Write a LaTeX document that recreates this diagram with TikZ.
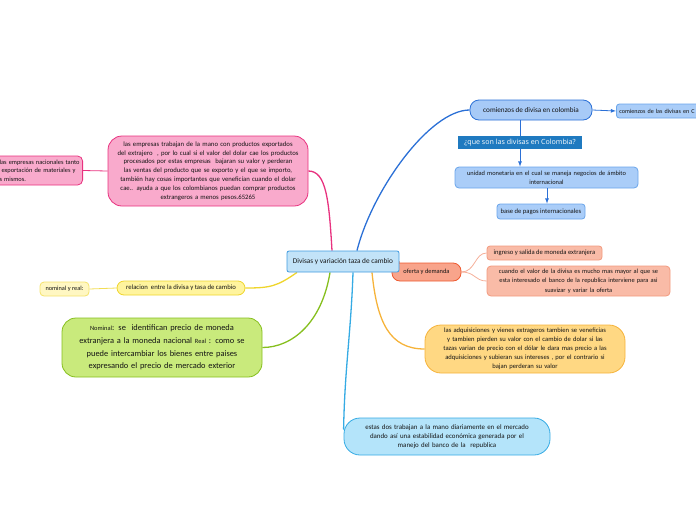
\documentclass[tikz,border=0pt]{standalone}
\usepackage{fontspec}
\setmainfont{Carlito}
\newfontfamily\questfont{Open Sans}
\usepackage{tikz}
\usetikzlibrary{arrows,shapes}
\usetikzlibrary{positioning}
\usetikzlibrary{calc}
\usetikzlibrary{backgrounds}

\definecolor{hubfill}{HTML}{C2E3F8}
\definecolor{hubline}{HTML}{3F9BE0}
\definecolor{pinkfill}{HTML}{F9AACC}
\definecolor{pinkline}{HTML}{E8327F}
\definecolor{yelfill}{HTML}{FFF49E}
\definecolor{yelline}{HTML}{EFD52B}
\definecolor{nomfill}{HTML}{FFF7C2}
\definecolor{grnfill}{HTML}{C9EA7C}
\definecolor{grnline}{HTML}{86BF1E}
\definecolor{bluefill}{HTML}{A7CAF7}
\definecolor{blueline}{HTML}{2B70D6}
\definecolor{unifill}{HTML}{AACDF8}
\definecolor{uniline}{HTML}{6AA5EA}
\definecolor{questfill}{HTML}{1F7AC0}
\definecolor{ofefill}{HTML}{F8A48B}
\definecolor{ofeline}{HTML}{EE5A30}
\definecolor{salfill}{HTML}{F9BBA7}
\definecolor{salline}{HTML}{F29A7F}
\definecolor{orafill}{HTML}{FFD883}
\definecolor{oraline}{HTML}{F6B33A}
\definecolor{skyfill}{HTML}{B4E4FA}
\definecolor{skyline}{HTML}{35ABE4}
\definecolor{ink}{HTML}{141414}

\tikzstyle{block} = [draw, rectangle, line width = 0.8pt, inner sep = 0pt, align = center, text = ink]
\tikzstyle{small} = [font = \fontsize{6.4}{9}\selectfont]
\tikzstyle{branch} = [line width = 1.3pt]
\tikzstyle{twig} = [line width = 0.8pt]
\tikzstyle{arrow} = [line width = 0.8pt, ->, >=latex]

\begin{document}
\begin{tikzpicture}[x = 1pt, y = -1pt]
			\useasboundingbox (0,0) rectangle (696,520);
			
			% Side nodes first, the central one on top of them
			\node[block, small, draw = ofeline, fill = ofefill, rounded corners = 8pt, minimum width = 69pt, minimum height = 18pt] (oferta) at (426.5,272) {oferta y demanda};
			\node[block, draw = hubline, fill = hubfill, rounded corners = 2pt, minimum width = 112pt, minimum height = 21pt, font = \fontsize{7.3}{8}\selectfont] (hub) at (343,261.5) {Divisas y variación taza de cambio};
			
			% Left branches
			\node[block, draw = pinkline, fill = pinkfill, rounded corners = 14pt, minimum width = 200pt, minimum height = 70pt, text width = 196pt, font = \fontsize{6.7}{8.8}\selectfont] (empresas) at (208,171) {las empresas trabajan de la mano con productos exportados\\del extrajero~ , por lo cual si el valor del dolar cae los productos\\procesados por estas empresas~ bajaran su valor y perderan\\las ventas del producto que se exporto y el que se importo,\\también hay cosas importantes que veneficían cuando el dolar\\cae.. ayuda a que los colombianos puedan comprar productos\\extrangeros a menos pesos.65265};
			\node[block, draw = pinkline, fill = pinkfill, rounded corners = 5pt, minimum height = 29pt, text width = 103pt, align = left, anchor = east, font = \fontsize{6.4}{8.3}\selectfont] (nacionales) at (83,170.5) {\hspace*{20pt}las empresas nacionales tanto\\\hspace*{22pt}exportación de materiales y\\\hspace*{20pt}s mismos.};
			\node[block, draw = yelline, fill = yelfill, rounded corners = 7pt, minimum width = 128pt, minimum height = 14pt, font = \fontsize{6.7}{8}\selectfont] (relacion) at (181,288) {relacion~ entre la divisa y tasa de cambio};
			\node[block, draw = yelline!70, fill = nomfill, rounded corners = 4pt, minimum width = 49pt, minimum height = 14pt, font = \fontsize{6.3}{8}\selectfont] (nominal) at (64.5,289) {nominal y real:};
			\node[block, draw = grnline, fill = grnfill, rounded corners = 14pt, minimum width = 200pt, minimum height = 59pt, text width = 196pt, font = \fontsize{8.4}{12.6}\selectfont] (precio) at (162,347.5) {{\fontsize{6.4}{8}\selectfont Nominal}: se~ identifican precio de moneda\\extranjera a la moneda nacional {\fontsize{6.4}{8}\selectfont Real} : como se\\puede intercambiar los bienes entre paises\\expresando el precio de mercado exterior};
			
			% Top right branch
			\node[block, draw = blueline, fill = bluefill, rounded corners = 9pt, minimum width = 122pt, minimum height = 20pt, font = \fontsize{7.2}{8}\selectfont] (comienzos) at (531,110) {comienzos de divisa en colombia};
			\node[block, draw = uniline, fill = unifill, rounded corners = 3pt, minimum height = 14pt, text width = 100pt, align = left, anchor = west, font = \fontsize{6.1}{8}\selectfont] (historia) at (616,111) {\hspace*{3pt}comienzos de las divisas en C};
			\node[block, draw = uniline, fill = unifill, rounded corners = 4pt, minimum width = 183pt, minimum height = 21pt, text width = 180pt, font = \fontsize{6.4}{8.6}\selectfont] (unidad) at (546.5,177.5) {unidad monetaria en el cual se maneja negocios de ámbito\\internacional};
			\node[block, draw = uniline, fill = unifill, rounded corners = 3pt, minimum width = 88pt, minimum height = 15pt, font = \fontsize{6.6}{8}\selectfont] (base) at (541,211.5) {base de pagos internacionales};
			
			% Right branches
			\node[block, draw = salline, fill = salfill, rounded corners = 3pt, minimum width = 115pt, minimum height = 14pt, font = \fontsize{6.6}{8}\selectfont] (ingreso) at (544.5,253) {ingreso y salida de moneda extranjera};
			\node[block, draw = salline, fill = salfill, rounded corners = 4pt, minimum width = 183pt, minimum height = 30pt, text width = 180pt, font = \fontsize{6.4}{9.5}\selectfont] (cuando) at (578.5,281) {cuando el valor de la divisa es mucho mas mayor al que se\\esta interesado el banco de la republica interviene para asi\\suavizar y variar la oferta};
			\node[block, draw = oraline, fill = orafill, rounded corners = 16pt, minimum width = 200pt, minimum height = 48pt, text width = 196pt, font = \fontsize{6.6}{9}\selectfont] (adquisiciones) at (525,349) {las adquisiciones y vienes extrageros tambien se veneficias\\y tambien pierden su valor con el cambio de dolar si las\\tazas varian de precio con el dólar le dara mas precio a las\\adquisiciones y subieran sus intereses , por el contrario si\\bajan perderan su valor};
			\node[block, draw = skyline, fill = skyfill, rounded corners = 16pt, minimum width = 206pt, minimum height = 37pt, text width = 200pt, font = \fontsize{6.9}{9}\selectfont] (mercado) at (447,436.5) {estas dos trabajan a la mano diariamente en el mercado\\dando así una estabilidad económica generada por el\\manejo del banco de la~ republica};
			
			% Connectors behind the nodes
			\begin{scope}[on background layer]
			\draw[branch, pinkline] ([xshift = -11pt]hub.north) .. controls +(-3,-50) and +(18,0) .. (empresas.east);
			\draw[twig, pinkline] (empresas.west) -- (nacionales.east);
			\draw[branch, blueline] ([xshift = 14pt]hub.north) .. controls +(15,-60) and +(-40,0) .. (comienzos.west);
			\draw[branch, yelline] ([xshift = -46pt]hub.south) .. controls +(-20,14) and +(25,0) .. (relacion.east);
			\draw[twig, yelline!80] (relacion.west) -- (nominal.east);
			\draw[branch, grnline] ([xshift = -13pt]hub.south) .. controls +(-8,50) and +(30,0) .. (precio.east);
			\draw[branch, skyline] ([xshift = 10pt]hub.south) .. controls +(-2,60) and +(1,-60) .. ([yshift = 7pt]mercado.west);
			\draw[branch, oraline] ([xshift = 29pt]hub.south) .. controls +(5,50) and +(-35,0) .. (adquisiciones.west);
			\draw[branch, ofeline] (hub.east) -- (oferta.west);
			\draw[twig, salline!80] (oferta.east) .. controls +(14,0) and +(-12,0) .. (ingreso.west);
			\draw[twig, salline!80] (oferta.east) .. controls +(14,0) and +(-12,0) .. (cuando.west);
			\end{scope}
			
			% Arrows inside the blue branch
			\node[fill = questfill, text = white, inner sep = 0pt, minimum width = 124pt, minimum height = 13pt, font = \questfont\fontsize{7.1}{8}\selectfont] (pregunta) at (520,142.5) {¿que son las divisas en Colombia?};
			\draw[arrow, blueline] (comienzos.east) -- (historia.west);
			\draw[twig, blueline] (comienzos.south -| pregunta) -- (pregunta.north);
			\draw[arrow, blueline] (pregunta.south) -- (unidad.north -| pregunta);
			\draw[arrow, blueline] ($(base.north |- unidad.south) + (6,0)$) -- ($(base.north) + (6,0)$);
		
		\end{tikzpicture}
\end{document}
